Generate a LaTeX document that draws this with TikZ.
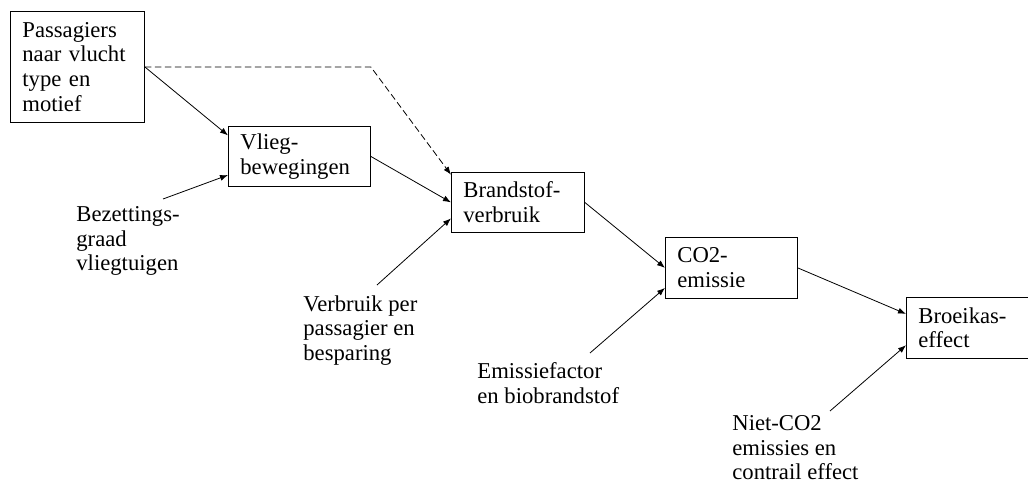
\documentclass[tikz,border=0pt]{standalone}
\usepackage{fontspec}
\setmainfont{Liberation Serif}
\usetikzlibrary{arrows.meta}

\begin{document}
\begin{tikzpicture}[x=0.75pt, y=-0.75pt, line width=0.6pt,
  every node/.style={font=\fontsize{17}{18.5}\selectfont, align=left},
  box/.style={draw, anchor=north west, inner xsep=9pt, minimum height=#1},
  box/.default=45pt,
  factor/.style={anchor=north west, inner sep=0pt},
  flow/.style={-{Latex[length=6pt,width=4.5pt]}}]
\useasboundingbox (0,0) rectangle (1028,486);
\node[box=83.25pt, text width=82.5pt] (passagiers) at (10,11) {Passagiers\\naar vlucht\\type en\\motief};
\node[box, text width=88.5pt] (vlieg) at (228,126) {Vlieg-\\bewegingen};
\node[box, text width=81.75pt] (brandstof) at (451,172) {Brandstof-\\verbruik};
\node[box=45.75pt, text width=81pt] (co2) at (665,237) {CO2-\\emissie};
\node[box=45.75pt, text width=78pt] (broeikas) at (906,297) {Broeikas-\\effect};

\node[factor] (bezetting) at (76,206) {Bezettings-\\graad\\vliegtuigen};
\node[factor] (verbruik) at (303,295) {Verbruik per\\passagier en\\besparing};
\node[factor] (emissiefactor) at (477,362) {Emissiefactor\\en biobrandstof};
\node[factor] (nietco2) at (732,415) {Niet-CO2\\emissies en\\contrail effect};
\coordinate (bezettingTail) at (163,199);
\coordinate (verbruikTail) at (377,285);
\coordinate (emissiefactorTail) at (590,353);
\coordinate (nietco2Tail) at (830,411);

\draw[flow] (passagiers.east) -- ([yshift=15.75pt]vlieg.west);
\draw[flow, dash pattern=on 5pt off 2.5pt] (passagiers.east) -- (vlieg.east |- passagiers.east) -- ([yshift=-2pt]brandstof.north west);
\draw[flow] (bezettingTail) -- ([yshift=-14pt]vlieg.west);
\draw[flow] (vlieg.east) -- (brandstof.west);
\draw[flow] (verbruikTail) -- ([yshift=-12pt]brandstof.west);
\draw[flow] (brandstof.east) -- (co2.west);
\draw[flow] (emissiefactorTail) -- ([yshift=-15pt]co2.west);
\draw[flow] (co2.east) -- ([yshift=10.5pt]broeikas.west);
\draw[flow] (nietco2Tail) -- ([yshift=-13pt]broeikas.west);
\end{tikzpicture}
\end{document}
